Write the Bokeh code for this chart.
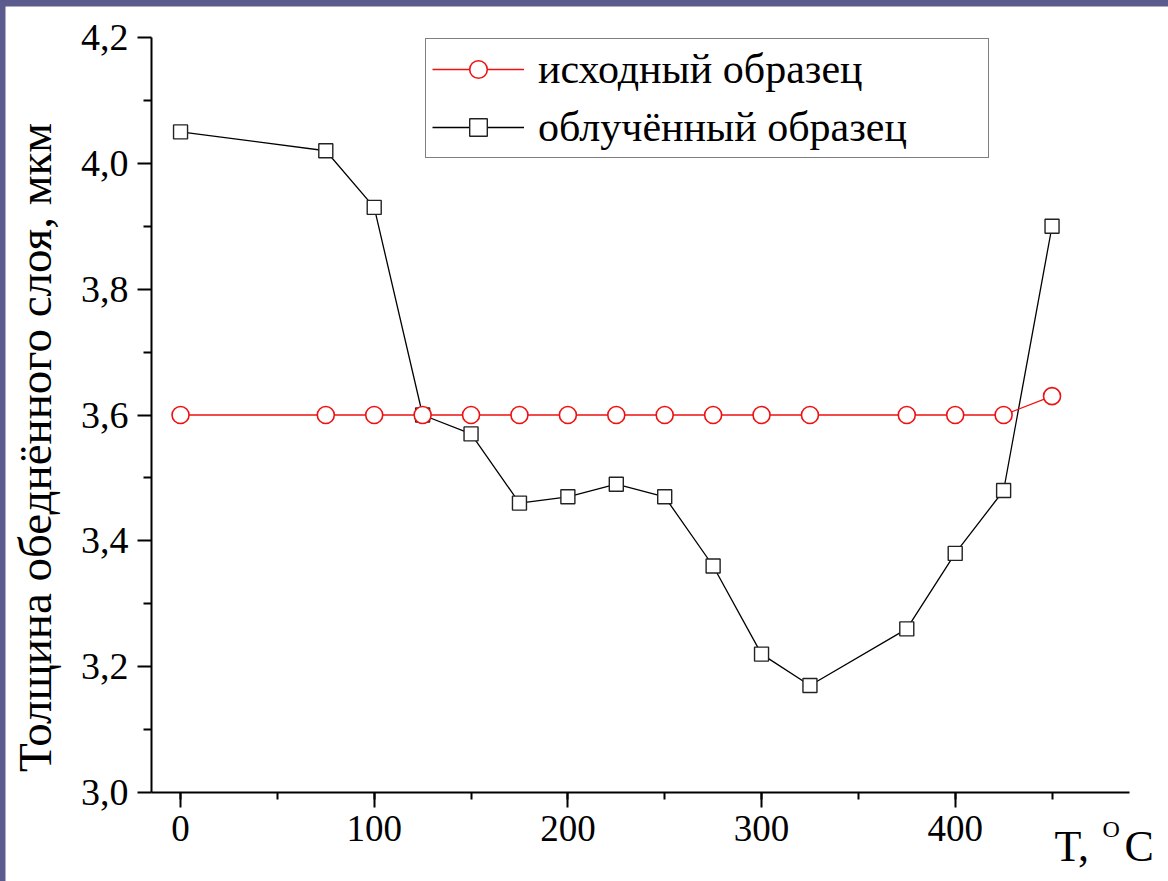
import math

from bokeh.embed import file_html
from bokeh.layouts import column
from bokeh.models import (ColumnDataSource, FixedTicker, Label, Legend,
                          LegendItem, SingleIntervalTicker)
from bokeh.plotting import figure
from bokeh.resources import INLINE

# Annealing temperature, deg C
temp_initial = [0, 75, 100, 125, 150, 175, 200, 225, 250, 275, 300, 325, 375, 400, 425, 450]
temp_irradiated = [0, 75, 100, 125, 150, 175, 200, 225, 250, 275, 300, 325, 375, 400, 425, 450]

# Depletion layer thickness, um
thick_initial = [3.60, 3.60, 3.60, 3.60, 3.60, 3.60, 3.60, 3.60, 3.60, 3.60, 3.60, 3.60, 3.60, 3.60, 3.60, 3.63]
thick_irradiated = [4.05, 4.02, 3.93, 3.60, 3.57, 3.46, 3.47, 3.49, 3.47, 3.36, 3.22, 3.17, 3.26, 3.38, 3.48, 3.90]

series_names = ["исходный образец", "облучённый образец"]

y_ticks = [3.0, 3.2, 3.4, 3.6, 3.8, 4.0, 4.2]
y_tick_labels = ["3,0", "3,2", "3,4", "3,6", "3,8", "4,0", "4,2"]
y_minor_ticks = [3.1, 3.3, 3.5, 3.7, 3.9, 4.1]

y_title = "Толщина обеднённого слоя, мкм"
x_title = "T,"
x_title_sup = "O"
x_title_unit = "C"

FONT = "'Liberation Serif', 'Times New Roman', serif"

# axis extents (data) and where the axes sit on the canvas (pixels)
X0, X1 = -15, 490
Y0, Y1 = 3.0, 4.2
W, H = 1163, 875
AX_L, AX_R = 146, 1124   # x pixel of X0 and X1
AX_T, AX_B = 31, 786     # y pixel of Y1 and Y0 (from top)

sx = (AX_R - AX_L) / (X1 - X0)
sy = (AX_B - AX_T) / (Y1 - Y0)


def px_x(px):
    return X0 + (px - AX_L) / sx


def px_y(py):
    return Y0 + (AX_B - py) / sy


# the plotting frame spans the whole canvas; axes are pinned inside it
p = figure(width=W, height=H,
           x_range=(px_x(0), px_x(W)), y_range=(px_y(H), px_y(0)),
           output_backend="svg", toolbar_location=None,
           min_border=0)
p.grid.visible = False
p.outline_line_color = None
p.background_fill_color = "white"
p.border_fill_color = "white"

xa = p.xaxis[0]
xa.ticker = SingleIntervalTicker(interval=100, num_minor_ticks=2)
xa.fixed_location = Y0
xa.bounds = (X0, X1)
ya = p.yaxis[0]
ya.ticker = FixedTicker(ticks=y_ticks, minor_ticks=y_minor_ticks)
ya.major_label_overrides = {t: s for t, s in zip(y_ticks, y_tick_labels)}
ya.fixed_location = X0
ya.bounds = (Y0, Y1)
for ax, size in ((xa, "37px"), (ya, "38px")):
    ax.axis_line_width = 2
    ax.axis_line_color = "black"
    ax.major_tick_line_width = 2
    ax.minor_tick_line_width = 2
    ax.major_tick_line_color = "black"
    ax.minor_tick_line_color = "black"
    ax.major_tick_in = 0
    ax.minor_tick_in = 0
    ax.major_label_text_font = FONT
    ax.major_label_text_font_size = size
    ax.major_label_text_color = "black"
xa.major_tick_out = 15
xa.minor_tick_out = 7
xa.major_label_standoff = 8
ya.major_tick_out = 14
ya.minor_tick_out = 8
ya.major_label_standoff = 9

src_irr = ColumnDataSource(dict(x=temp_irradiated, y=thick_irradiated))
src_ini = ColumnDataSource(dict(x=temp_initial, y=thick_initial))

irr_line = p.line("x", "y", source=src_irr, line_color="black", line_width=1.3)
irr_pts = p.scatter("x", "y", source=src_irr, marker="square", size=14,
                    line_color="#222222", line_width=1.4, fill_color="white")
ini_line = p.line("x", "y", source=src_ini, line_color="#ee1111", line_width=1.3)
ini_pts = p.scatter("x", "y", source=src_ini, marker="circle", size=17,
                    line_color="#ee1111", line_width=1.6, fill_color="white")

legend = Legend(items=[
    LegendItem(label=series_names[0], renderers=[ini_line, ini_pts]),
    LegendItem(label=series_names[1], renderers=[irr_line, irr_pts]),
])
legend.location = (420, H - 152)
legend.orientation = "vertical"
legend.label_text_font = FONT
legend.label_text_font_size = "42px"
legend.label_text_color = "black"
legend.glyph_width = 92
legend.glyph_height = 44
legend.label_height = 44
legend.label_width = 444
legend.label_standoff = 14
legend.spacing = 10
legend.padding = 6
legend.margin = 0
legend.border_line_color = "black"
legend.border_line_width = 1.5
legend.background_fill_color = "white"
legend.background_fill_alpha = 1
p.add_layout(legend, "center")

p.add_layout(Label(x=px_x(29), y=px_y(441), text=y_title, angle=math.pi / 2,
                   text_align="center", text_baseline="middle",
                   text_font=FONT, text_font_size="47px", text_color="black"))

p.add_layout(Label(x=px_x(1049), y=px_y(840), text=x_title,
                   text_align="left", text_baseline="middle",
                   text_font=FONT, text_font_size="44px", text_color="black"))
p.add_layout(Label(x=px_x(1097), y=px_y(822), text=x_title_sup,
                   text_align="left", text_baseline="middle",
                   text_font=FONT, text_font_size="24px", text_color="black"))
p.add_layout(Label(x=px_x(1119), y=px_y(840), text=x_title_unit,
                   text_align="left", text_baseline="middle",
                   text_font=FONT, text_font_size="44px", text_color="black"))

page = column(p, styles={"background-color": "#5b5b8e",
                         "padding-top": "6px", "padding-left": "5px"})

open("out.html", "w").write(file_html(page, INLINE))
